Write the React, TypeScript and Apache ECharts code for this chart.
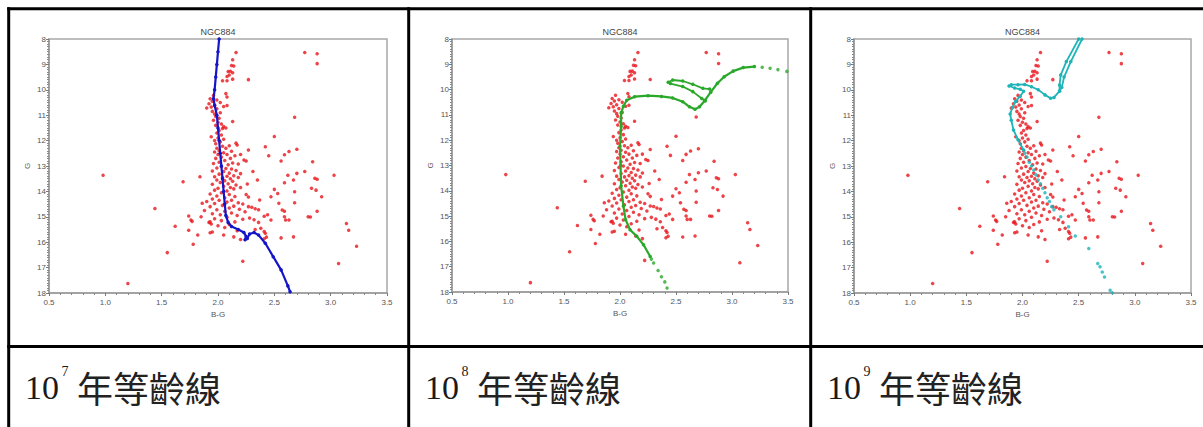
import React, { useEffect, useRef } from "react";
import * as echarts from "echarts";

// ---------- data ----------
const TITLE = "NGC884";
const X_NAME = "B-G";
const Y_NAME = "G";
const CAPTION_BASE = "10";
const CAPTION_EXPONENTS = ["7", "8", "9"];
const CAPTION_TEXT = "年等齡線";

// observed stars of NGC884 (B-G, G)
const STARS: [number, number][] = [
  [2.16, 8.53], [2.77, 8.53], [2.88, 8.58], [2.88, 8.97], [2.13, 8.82], [2.12, 9.04], [2.14, 9.06],
  [2.09, 9.28], [2.11, 9.27], [2.13, 9.33], [2.1, 9.42], [2.08, 9.48], [2.27, 9.6], [2.04, 9.64],
  [2.08, 9.64], [2.13, 9.58],
  [1.96, 10.22], [2.07, 10.15], [2.08, 10.28], [1.93, 10.35], [1.99, 10.4], [1.95, 10.45], [2.02, 10.5],
  [1.92, 10.55], [1.97, 10.6], [1.94, 10.68], [1.9, 10.72], [2.05, 10.66], [1.99, 10.75], [1.95, 10.85],
  [2.02, 10.9], [1.97, 10.95], [2.08, 10.62],
  [1.98, 11.05], [2.01, 11.12], [1.96, 11.2], [2.0, 11.28], [2.03, 11.35], [1.98, 11.4], [2.13, 11.25],
  [2.05, 11.45], [2.04, 11.52], [2.07, 11.5], [2.68, 11.08],
  [2.01, 11.6], [1.99, 11.7], [2.03, 11.78], [1.94, 11.85], [2.0, 11.9], [2.05, 11.95], [1.97, 12.0], [2.5, 11.84],
  [2.02, 12.05], [1.98, 12.12], [2.16, 12.1], [2.17, 12.17], [2.1, 12.2], [2.04, 12.22], [1.99, 12.3],
  [2.07, 12.3], [2.27, 12.37], [2.01, 12.4], [2.12, 12.42], [1.97, 12.45], [2.05, 12.48], [2.42, 12.24],
  [2.7, 12.34], [2.63, 12.43], [2.59, 12.56], [2.45, 12.6],
  [2.0, 12.55], [2.08, 12.55], [2.15, 12.6], [2.03, 12.65], [1.98, 12.7], [2.11, 12.7], [2.23, 12.76],
  [2.25, 12.8], [2.06, 12.78], [2.01, 12.85], [2.13, 12.88], [1.96, 12.9], [2.09, 12.95], [2.18, 12.92],
  [2.56, 12.8], [2.84, 12.83], [2.2, 12.55],
  [2.03, 13.02], [1.99, 13.08], [2.07, 13.1], [2.12, 13.12], [2.16, 13.18], [1.95, 13.2], [2.05, 13.22],
  [2.1, 13.28], [2.2, 13.3], [2.01, 13.32], [2.14, 13.38], [2.08, 13.4], [1.97, 13.42], [2.04, 13.45],
  [2.18, 13.45], [2.11, 13.5], [2.77, 13.22], [2.7, 13.29], [2.62, 13.36], [3.03, 13.36], [0.98, 13.36],
  [2.31, 13.22], [2.86, 13.48], [2.88, 13.52], [2.67, 13.55], [1.84, 13.42], [1.69, 13.62],
  [1.99, 13.55], [2.06, 13.58], [2.13, 13.6], [2.02, 13.65], [2.09, 13.7], [1.95, 13.72], [2.16, 13.75],
  [2.05, 13.8], [2.11, 13.85], [2.0, 13.88], [2.14, 13.9], [1.97, 13.95], [2.08, 13.98], [2.2, 13.85],
  [2.59, 13.66], [2.35, 13.55], [2.26, 13.71], [2.83, 13.88], [2.87, 13.95], [2.68, 14.01], [2.5, 13.92],
  [2.53, 14.08],
  [2.03, 14.05], [1.93, 14.1], [2.1, 14.12], [1.99, 14.18], [2.15, 14.2], [2.06, 14.25], [1.95, 14.3],
  [2.01, 14.35], [2.12, 14.35], [1.9, 14.4], [2.08, 14.42], [2.18, 14.45], [1.97, 14.48], [2.22, 14.5],
  [2.92, 14.21], [2.47, 14.21], [2.37, 14.34], [2.25, 14.12], [2.27, 14.22], [2.68, 14.45], [2.54, 14.47],
  [1.86, 14.47], [1.44, 14.67],
  [2.04, 14.55], [2.14, 14.58], [1.93, 14.6], [2.27, 14.6], [2.3, 14.62], [2.1, 14.65], [2.33, 14.68],
  [2.19, 14.7], [1.99, 14.72], [1.88, 14.75], [2.06, 14.78], [2.24, 14.8], [2.12, 14.85], [1.95, 14.88],
  [2.02, 14.92], [2.17, 14.95], [2.36, 14.72], [2.57, 14.73], [2.59, 14.78], [2.88, 14.78], [2.41, 14.98],
  [2.44, 14.92], [2.8, 15.0], [2.82, 15.01],
  [1.74, 14.97], [1.76, 15.13], [1.77, 15.18], [1.85, 15.0], [1.93, 15.2], [1.94, 15.28],
  [2.08, 15.02], [1.97, 15.08], [2.22, 15.1], [2.03, 15.15], [2.15, 15.2], [1.92, 15.22], [2.28, 15.05],
  [2.32, 15.12], [2.1, 15.3], [2.0, 15.35], [2.36, 15.22], [2.38, 15.45], [2.06, 15.42], [2.59, 15.0],
  [2.6, 15.13], [2.63, 15.13], [2.47, 15.13], [3.14, 15.26], [3.16, 15.53], [1.62, 15.37], [1.74, 15.53],
  [2.41, 15.58], [2.42, 15.65], [2.43, 15.8], [2.05, 15.72], [2.14, 15.79], [2.2, 15.89], [1.95, 15.6],
  [2.17, 15.55], [2.33, 15.5], [1.82, 15.72], [1.93, 15.63], [2.56, 15.83], [2.67, 15.79], [2.41, 15.86],
  [1.78, 16.08], [3.23, 16.16], [1.55, 16.41], [2.22, 16.75], [3.07, 16.84], [1.2, 17.63],
];

// 10^7 yr isochrone
const ISO7: [number, number][] = [
  [2.01, 8.0], [2.0, 8.5], [1.99, 9.0], [1.98, 9.5], [1.97, 10.0], [1.96, 10.35], [1.97, 10.62],
  [1.99, 11.0], [2.0, 11.5], [2.01, 12.0], [2.02, 12.5], [2.03, 13.0], [2.04, 13.5], [2.05, 14.0],
  [2.06, 14.5], [2.07, 14.95], [2.09, 15.22], [2.12, 15.38], [2.18, 15.5], [2.23, 15.62], [2.25, 15.78],
  [2.24, 15.9], [2.26, 15.85], [2.28, 15.68], [2.32, 15.62], [2.36, 15.72], [2.42, 16.04], [2.49, 16.57],
  [2.56, 17.09], [2.62, 17.72], [2.64, 17.95],
];

// 10^8 yr isochrone
const ISO8_MAIN: [number, number][] = [
  [2.27, 16.6], [2.21, 16.13], [2.15, 15.8], [2.09, 15.54], [2.05, 15.14], [2.03, 14.6], [2.01, 13.8],
  [2.005, 13.0], [2.0, 12.24], [2.01, 11.45], [2.01, 10.92], [2.03, 10.66], [2.06, 10.42], [2.13, 10.28],
  [2.25, 10.24], [2.37, 10.27], [2.47, 10.33], [2.56, 10.48], [2.62, 10.68], [2.67, 10.78], [2.71, 10.68],
  [2.76, 10.42], [2.81, 10.1], [2.87, 9.75], [2.93, 9.49], [3.01, 9.27], [3.1, 9.13], [3.2, 9.09],
];
const ISO8_LOOP: [number, number][] = [
  [2.8, 9.98], [2.74, 9.95], [2.65, 9.79], [2.56, 9.66], [2.47, 9.62], [2.43, 9.71], [2.45, 9.76],
  [2.56, 9.88], [2.65, 10.08], [2.73, 10.35], [2.76, 10.45],
];
const ISO8_TAIL: [number, number][] = [
  [2.42, 17.84], [2.4, 17.6], [2.37, 17.4], [2.34, 17.15], [2.3, 16.85], [2.28, 16.7],
  [3.27, 9.12], [3.34, 9.16], [3.41, 9.21], [3.49, 9.28],
];

// 10^9 yr isochrone
const ISO9_MAIN: [number, number][] = [
  [2.01, 12.37], [1.96, 11.97], [1.92, 11.58], [1.9, 11.2], [1.89, 10.95], [1.91, 10.7], [1.94, 10.45],
  [1.98, 10.25], [2.01, 10.06], [1.98, 9.98], [1.93, 9.93], [1.88, 9.85], [1.9, 9.8], [1.96, 9.8],
  [2.02, 9.79], [2.08, 9.88], [2.14, 10.0], [2.2, 10.2], [2.25, 10.33], [2.28, 10.3], [2.33, 10.05],
  [2.33, 9.81], [2.34, 9.42], [2.39, 8.89], [2.5, 8.0],
];
const ISO9_BRANCH: [number, number][] = [
  [2.33, 10.05], [2.35, 9.9], [2.37, 9.5], [2.43, 8.89], [2.53, 8.0],
];
const ISO9_DOTS: [number, number][] = [
  [2.02, 12.5], [2.04, 12.65], [2.06, 12.85], [2.08, 13.0], [2.1, 13.16], [2.12, 13.35], [2.14, 13.55],
  [2.16, 13.7], [2.18, 13.88], [2.2, 14.05], [2.22, 14.25], [2.24, 14.4], [2.26, 14.6], [2.28, 14.72],
  [2.34, 15.0], [2.41, 15.39], [2.47, 15.76], [2.59, 16.25], [2.67, 16.84], [2.69, 16.97], [2.71, 17.17],
  [2.73, 17.37], [2.78, 17.89], [2.8, 17.99],
];

const X_MIN = 0.5;
const X_MAX = 3.5;
const X_STEP = 0.5;
const Y_MIN = 8;
const Y_MAX = 18;
const Y_STEP = 1;

// ---------- layout ----------
const GRIDS = [
  { left: 49, top: 39, width: 338, height: 254 },
  { left: 452, top: 39, width: 336, height: 253 },
  { left: 854, top: 39, width: 337, height: 254 },
];
const CELL_X = [8.7, 408.7, 810.7];
const ROW_Y = 346.5;

const RED = "#e8151b";
const BLUE = "#1515c8";
const GREEN = "#2aa82a";
const CYAN = "#1eb4b8";

export default function App() {
  const ref = useRef<HTMLDivElement>(null);

  useEffect(() => {
    if (!ref.current) return;
    const chart = echarts.init(ref.current, undefined, { renderer: "svg" });

    const grid = GRIDS.map((g) => ({
      ...g,
      show: true,
      borderColor: "#a8a8a8",
      borderWidth: 1.5,
      backgroundColor: "#fff",
    }));

    const axisLabelStyle = { fontSize: 8, color: "#555", fontFamily: "Liberation Sans, Arial, sans-serif" };

    const xAxis = GRIDS.map((_, i) => ({
      type: "value",
      gridIndex: i,
      min: X_MIN,
      max: X_MAX,
      interval: X_STEP,
      name: X_NAME,
      nameLocation: "middle",
      nameGap: 17,
      nameTextStyle: { ...axisLabelStyle },
      axisLine: { show: true, lineStyle: { color: "#9a9a9a", width: 1.5 } },
      axisTick: { show: true, length: 3, lineStyle: { color: "#777" } },
      minorTick: { show: true, splitNumber: 5, length: 2, lineStyle: { color: "#888" } },
      splitLine: { show: false },
      axisLabel: { ...axisLabelStyle, margin: 5, formatter: (v: number) => v.toFixed(1) },
    }));

    const yAxis = GRIDS.map((_, i) => ({
      type: "value",
      gridIndex: i,
      min: Y_MIN,
      max: Y_MAX,
      interval: Y_STEP,
      inverse: true,
      name: Y_NAME,
      nameLocation: "middle",
      nameGap: 18,
      nameRotate: 90,
      nameTextStyle: { ...axisLabelStyle },
      axisLine: { show: true, lineStyle: { color: "#9a9a9a", width: 1.5 } },
      axisTick: { show: true, length: 3, lineStyle: { color: "#777" } },
      minorTick: { show: true, splitNumber: 10, length: 2, lineStyle: { color: "#888" } },
      splitLine: { show: false },
      axisLabel: { ...axisLabelStyle, margin: 3 },
    }));

    const series: any[] = [];
    GRIDS.forEach((_, i) => {
      series.push({
        type: "scatter",
        xAxisIndex: i,
        yAxisIndex: i,
        data: STARS,
        symbol: "circle",
        symbolSize: 3.5,
        itemStyle: { color: RED },
        z: 2,
      });
    });

    const lineSeries = (i: number, data: [number, number][], color: string, w = 2) => ({
      type: "line",
      xAxisIndex: i,
      yAxisIndex: i,
      data,
      symbol: "circle",
      symbolSize: 3.5,
      showSymbol: true,
      lineStyle: { color, width: w },
      itemStyle: { color },
      z: 3,
    });
    const dotSeries = (i: number, data: [number, number][], color: string, size = 3.5) => ({
      type: "scatter",
      xAxisIndex: i,
      yAxisIndex: i,
      data,
      symbol: "circle",
      symbolSize: size,
      itemStyle: { color },
      z: 3,
    });

    series.push(lineSeries(0, ISO7, BLUE, 2.2));
    series.push(lineSeries(1, ISO8_MAIN, GREEN, 2.2));
    series.push(lineSeries(1, ISO8_LOOP, GREEN, 1.8));
    series.push(dotSeries(1, ISO8_TAIL, GREEN, 3.5));
    series.push(lineSeries(2, ISO9_MAIN, CYAN, 1.8));
    series.push(lineSeries(2, ISO9_BRANCH, CYAN, 1.8));
    series.push(dotSeries(2, ISO9_DOTS, CYAN, 3.5));

    const graphic: any[] = [];
    // table borders
    CELL_X.forEach((x) => {
      graphic.push({
        type: "line",
        shape: { x1: x, y1: 7.2, x2: x, y2: 427 },
        style: { stroke: "#000", lineWidth: 3 },
        z: 100,
      });
    });
    graphic.push({
      type: "line",
      shape: { x1: 7.2, y1: 8.7, x2: 1203, y2: 8.7 },
      style: { stroke: "#000", lineWidth: 3 },
      z: 100,
    });
    graphic.push({
      type: "line",
      shape: { x1: 7.2, y1: ROW_Y, x2: 1203, y2: ROW_Y },
      style: { stroke: "#000", lineWidth: 3 },
      z: 100,
    });

    GRIDS.forEach((g, i) => {
      // chart titles
      graphic.push({
        type: "text",
        x: g.left + g.width / 2,
        y: 31.5,
        style: {
          text: TITLE,
          fontSize: 9,
          fontFamily: "Liberation Sans, Arial, sans-serif",
          fill: "#444",
          textAlign: "center",
          textVerticalAlign: "middle",
        },
        z: 100,
      });
      // captions
      const x0 = CELL_X[i] + 16.3;
      graphic.push({
        type: "text",
        x: x0,
        y: 387,
        style: {
          text: CAPTION_BASE,
          fontSize: 34,
          fontFamily: "Liberation Serif, DejaVu Serif, serif",
          fill: "#1a1a1a",
          textAlign: "left",
          textVerticalAlign: "middle",
        },
        z: 100,
      });
      graphic.push({
        type: "text",
        x: x0 + 36.5,
        y: 371,
        style: {
          text: CAPTION_EXPONENTS[i],
          fontSize: 14,
          fontFamily: "Liberation Serif, DejaVu Serif, serif",
          fill: "#1a1a1a",
          textAlign: "left",
          textVerticalAlign: "middle",
        },
        z: 100,
      });
      graphic.push({
        type: "text",
        x: x0 + 52,
        y: 387,
        style: {
          text: CAPTION_TEXT,
          fontSize: 36,
          fontFamily: "Noto Sans CJK TC, Noto Sans CJK SC, sans-serif",
          fill: "#222",
          textAlign: "left",
          textVerticalAlign: "middle",
        },
        z: 100,
      });
    });

    chart.setOption({
      animation: false,
      backgroundColor: "#fff",
      grid,
      xAxis,
      yAxis,
      series,
      graphic,
    });

    return () => chart.dispose();
  }, []);

  return (
    <div
      ref={ref}
      style={{ position: "absolute", left: 0, top: 0, width: 1203, height: 427, background: "#fff" }}
    />
  );
}
